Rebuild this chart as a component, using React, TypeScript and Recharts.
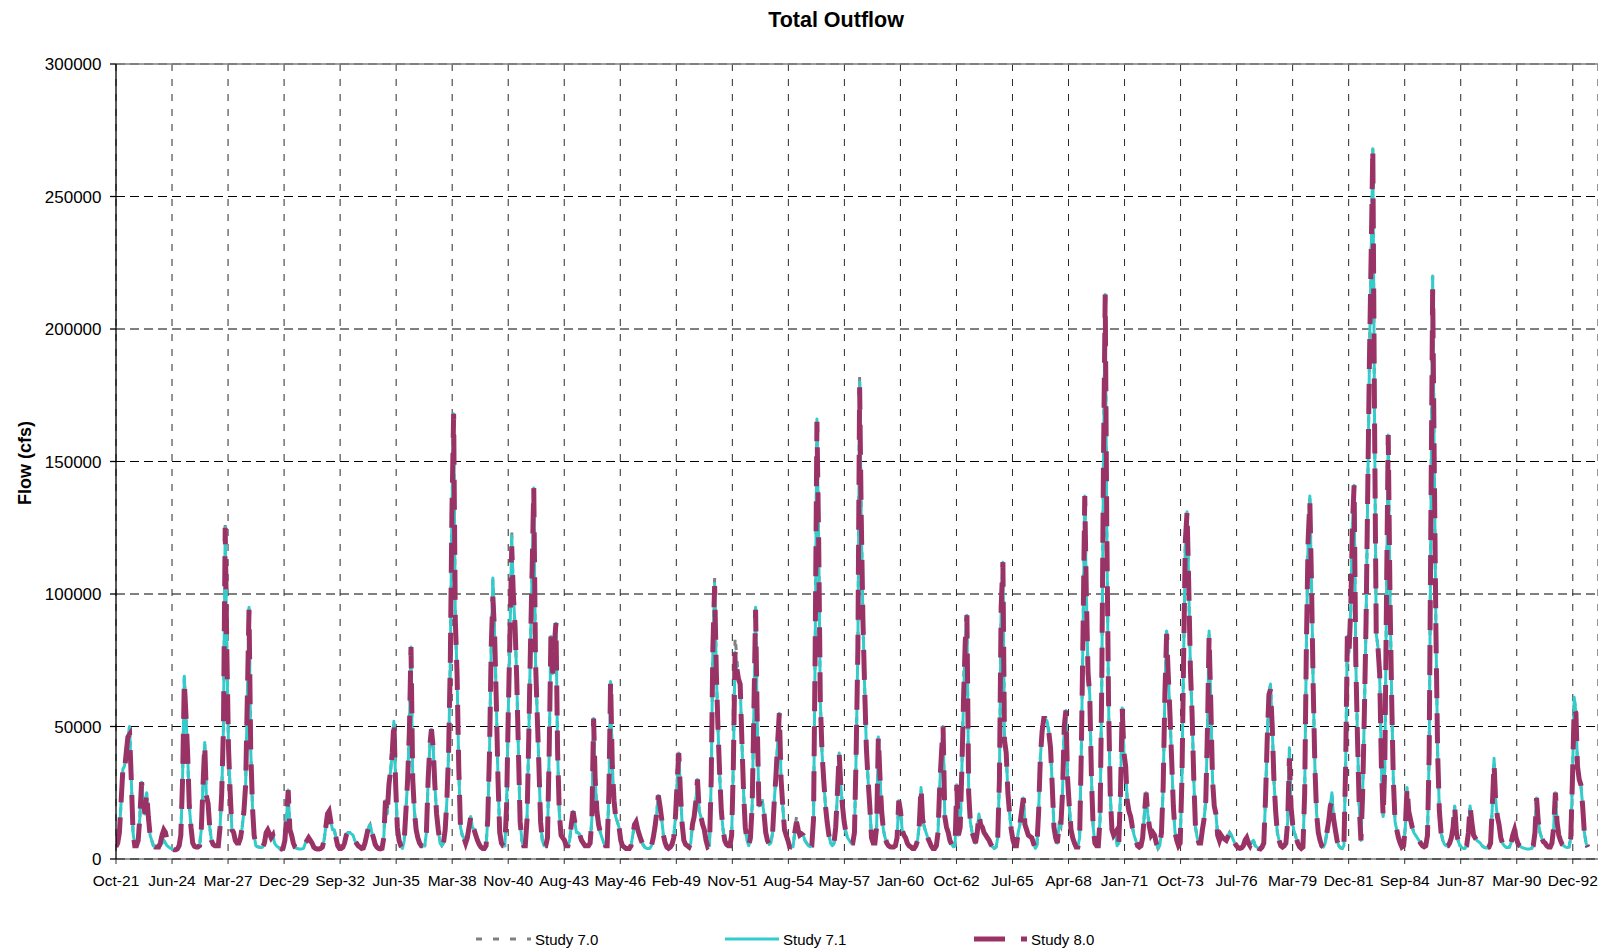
import React from 'react';
import { LineChart, Line, XAxis, YAxis, CartesianGrid, ReferenceLine } from 'recharts';

// Monthly total outflow (cfs), water years Oct-1921 .. Sep-1993, one row per water year (Oct..Sep)
const study80: number[] = [
  4600, 6000, 10000, 22000, 34000, 33000, 40000, 46000, 47000, 30000, 10000, 5000,
  5000, 7000, 16000, 29000, 22000, 17000, 25000, 16000, 9000, 7000, 5000, 4500,
  4500, 4500, 6000, 9000, 11000, 10000, 7000, 5000, 4000, 3800, 3500, 3500,
  3800, 5000, 9000, 30000, 67000, 55000, 40000, 20000, 12000, 6000, 4800, 4500,
  4500, 5000, 11000, 28000, 43000, 24000, 21000, 12000, 7000, 5500, 5000, 5000,
  5000, 12000, 25000, 50000, 125000, 80000, 42000, 25000, 11000, 10000, 7000, 6000,
  6000, 8000, 12000, 18000, 28000, 60000, 94000, 42000, 20000, 9000, 5000, 4600,
  4500, 4300, 4500, 6000, 10000, 11000, 9500, 8000, 9000, 6000, 5000, 4500,
  4000, 3800, 4200, 7000, 16000, 26000, 11000, 9000, 6000, 4500, 4000, 3800,
  3800, 3800, 4000, 6000, 7000, 8000, 7000, 6000, 4500, 4000, 3800, 3800,
  4000, 4500, 7000, 12000, 17000, 18000, 14000, 11000, 11000, 8000, 5000, 4000,
  4000, 4500, 6000, 9000, 10000, 10000, 9500, 9000, 7000, 6000, 5000, 4500,
  4000, 4200, 6000, 9000, 12000, 13000, 10000, 8000, 5500, 4500, 4000, 3800,
  4000, 8000, 22000, 17000, 28000, 33000, 40000, 52000, 28000, 12000, 7000, 5000,
  4000, 7000, 18000, 30000, 48000, 80000, 30000, 18000, 11000, 8000, 6000, 5000,
  5000, 5000, 10000, 30000, 43000, 49000, 42000, 28000, 17000, 11000, 6000, 5000,
  6000, 11000, 22000, 40000, 75000, 130000, 168000, 90000, 70000, 35000, 12000, 9000,
  8000, 6000, 8000, 12000, 16000, 12000, 11000, 9000, 7000, 5500, 4500, 4000,
  4000, 5000, 15000, 40000, 80000, 99000, 85000, 60000, 30000, 10000, 6000, 5000,
  5000, 20000, 55000, 85000, 118000, 100000, 88000, 68000, 40000, 14000, 7000, 5000,
  5000, 15000, 45000, 80000, 110000, 140000, 75000, 55000, 35000, 14000, 7000, 5000,
  5000, 8000, 40000, 84000, 70000, 80000, 89000, 40000, 17000, 9000, 8000, 7000,
  5000, 5000, 7000, 13000, 18000, 14000, 10000, 10000, 9000, 7000, 6000, 5000,
  5000, 5000, 6000, 15000, 53000, 30000, 18000, 13000, 10000, 8000, 6000, 5000,
  5000, 25000, 67000, 35000, 22000, 16000, 14000, 12000, 7000, 5000, 4500, 4000,
  4000, 4000, 5000, 9000, 13000, 14000, 11000, 9000, 7000, 5500, 4500, 4000,
  4000, 4000, 5000, 8000, 12000, 17000, 24000, 20000, 15000, 9000, 6000, 4500,
  4000, 4500, 5500, 8000, 16000, 28000, 40000, 25000, 13000, 7000, 5500, 5000,
  4500, 6000, 13000, 16000, 22000, 30000, 18000, 16000, 13000, 11000, 7000, 4600,
  5000, 30000, 80000, 103000, 70000, 50000, 32000, 18000, 11000, 7000, 5500, 5000,
  5000, 9000, 35000, 78000, 72000, 68000, 66000, 45000, 25000, 12000, 7000, 5000,
  8000, 20000, 55000, 94000, 50000, 20000, 22000, 22000, 17000, 10000, 7000, 5500,
  6000, 10000, 22000, 32000, 45000, 55000, 30000, 20000, 11000, 9000, 7000, 4600,
  4500, 4600, 10000, 14000, 11000, 9000, 9500, 9000, 7000, 6000, 5000, 4600,
  5000, 15000, 80000, 165000, 120000, 60000, 40000, 30000, 20000, 14000, 9000, 6000,
  5000, 6000, 12000, 25000, 40000, 28000, 20000, 14000, 10000, 8000, 7000, 6000,
  6000, 10000, 40000, 80000, 178000, 130000, 90000, 65000, 42000, 30000, 20000, 8000,
  6000, 6000, 12000, 46000, 30000, 18000, 11000, 8000, 6000, 5000, 4600, 4500,
  4500, 5000, 8000, 22000, 18000, 11000, 9000, 8000, 6000, 5000, 4600, 4000,
  4000, 5000, 7000, 13000, 27000, 15000, 12000, 10000, 8000, 6500, 5000, 4000,
  4000, 5000, 10000, 28000, 40000, 50000, 16000, 12000, 10000, 7000, 5500, 4600,
  5000, 28000, 9000, 12000, 35000, 60000, 82000, 92000, 25000, 14000, 10000, 8000,
  6000, 10000, 17000, 13000, 12000, 10000, 9000, 8000, 7000, 5500, 4500, 4000,
  4500, 8000, 30000, 95000, 112000, 45000, 40000, 25000, 17000, 11000, 7000, 5000,
  5000, 10000, 13000, 18000, 23000, 13000, 11000, 9000, 8500, 8000, 6000, 4000,
  5000, 18000, 38000, 48000, 53000, 53000, 52000, 48000, 42000, 28000, 12000, 8000,
  6000, 13000, 12000, 25000, 50000, 56000, 30000, 20000, 11000, 8000, 6000, 4500,
  4500, 8000, 40000, 85000, 137000, 100000, 70000, 62000, 30000, 12000, 6000, 5000,
  5000, 15000, 65000, 150000, 213000, 125000, 60000, 25000, 11000, 9000, 10000, 5000,
  6000, 25000, 57000, 40000, 35000, 22000, 18000, 16000, 12000, 9000, 7000, 5000,
  4500, 5000, 8000, 17000, 25000, 17000, 12000, 9000, 10000, 9000, 6000, 4000,
  5000, 10000, 27000, 62000, 85000, 70000, 55000, 38000, 20000, 10000, 7000, 5000,
  6000, 30000, 75000, 120000, 131000, 105000, 72000, 55000, 30000, 12000, 8000, 6000,
  6000, 11000, 15000, 22000, 50000, 84000, 58000, 30000, 20000, 17000, 9000, 7000,
  9000, 8000, 7500, 7000, 8500, 10000, 9000, 7500, 6000, 5000, 4200, 4000,
  4200, 5000, 7000, 8000, 6000, 5000, 6500, 7000, 5000, 4500, 4000, 3800,
  4500, 6000, 22000, 45000, 62000, 64000, 50000, 30000, 18000, 10000, 7000, 5000,
  4500, 5000, 6000, 14000, 38000, 20000, 13000, 10000, 8000, 6000, 4600, 4000,
  4500, 25000, 80000, 120000, 135000, 105000, 65000, 35000, 17000, 10000, 7000, 5000,
  4500, 6000, 10000, 14000, 20000, 22000, 15000, 11000, 7000, 5000, 4200, 4000,
  5000, 35000, 84000, 78000, 95000, 125000, 141000, 75000, 45000, 20000, 7000, 25000,
  55000, 90000, 140000, 190000, 230000, 268000, 165000, 85000, 80000, 70000, 35000, 16000,
  35000, 100000, 160000, 100000, 60000, 30000, 14000, 11000, 8000, 6000, 4500, 5000,
  12000, 27000, 18000, 15000, 12000, 10000, 9000, 8000, 7000, 6000, 5000, 4600,
  5000, 9000, 40000, 130000, 215000, 150000, 85000, 40000, 18000, 10000, 7000, 5500,
  5000, 5000, 6000, 8000, 12000, 20000, 10000, 7000, 5000, 4500, 4000, 4000,
  5000, 10000, 20000, 14000, 9000, 8000, 7000, 6500, 6000, 5000, 4500, 4200,
  4200, 4500, 6000, 20000, 36000, 22000, 16000, 13000, 8000, 6000, 5000, 4500,
  4300, 4500, 6000, 9000, 11000, 8000, 6000, 5000, 4500, 4200, 4000, 3800,
  3800, 3800, 4000, 5000, 10000, 23000, 14000, 10000, 8000, 6500, 6000, 5000,
  4500, 4500, 6000, 12000, 25000, 14000, 9000, 7000, 5500, 5000, 4500, 4300,
  4500, 8000, 30000, 57000, 55000, 35000, 30000, 28000, 20000, 10000, 6000, 4500,
];

const study71: number[] = [
  4600, 6000, 10000, 22000, 34000, 35000, 40000, 46000, 50000, 30000, 10000, 5000,
  5000, 7000, 16000, 29000, 22000, 17000, 25000, 16000, 9000, 7000, 5000, 4500,
  4500, 4500, 5000, 6000, 7000, 6000, 5000, 4500, 4000, 3800, 3500, 3500,
  3800, 5000, 9000, 30000, 69000, 55000, 40000, 20000, 12000, 6000, 4800, 4500,
  4500, 5000, 11000, 28000, 44000, 24000, 21000, 12000, 7000, 5500, 5000, 5000,
  5000, 12000, 25000, 50000, 125000, 80000, 42000, 25000, 11000, 10000, 7000, 6000,
  6000, 8000, 12000, 18000, 28000, 60000, 95000, 42000, 20000, 9000, 5000, 4600,
  4500, 4300, 4500, 6000, 10000, 11000, 9500, 8000, 9000, 6000, 5000, 4500,
  4000, 3800, 4200, 7000, 16000, 26000, 11000, 9000, 6000, 4500, 4000, 3800,
  3800, 3800, 4000, 6000, 7000, 8000, 7000, 6000, 4500, 4000, 3800, 3800,
  4000, 4500, 7000, 12000, 17000, 18000, 14000, 11000, 11000, 8000, 5000, 4000,
  4000, 4500, 6000, 9000, 10000, 10000, 9500, 9000, 7000, 6000, 5000, 4500,
  4000, 4200, 6000, 9000, 12000, 13000, 10000, 8000, 5500, 4500, 4000, 3800,
  4000, 8000, 22000, 17000, 28000, 33000, 40000, 52000, 28000, 12000, 7000, 5000,
  4000, 7000, 18000, 30000, 48000, 80000, 30000, 18000, 11000, 8000, 6000, 5000,
  5000, 5000, 10000, 30000, 43000, 49000, 42000, 28000, 17000, 11000, 6000, 5000,
  6000, 11000, 22000, 40000, 75000, 130000, 168000, 90000, 70000, 35000, 12000, 9000,
  8000, 6000, 8000, 12000, 16000, 12000, 11000, 9000, 7000, 5500, 4500, 4000,
  4000, 5000, 15000, 40000, 80000, 106000, 85000, 60000, 30000, 10000, 6000, 5000,
  5000, 20000, 55000, 85000, 122000, 100000, 88000, 68000, 40000, 14000, 7000, 5000,
  5000, 15000, 45000, 80000, 110000, 140000, 75000, 55000, 35000, 14000, 7000, 5000,
  5000, 8000, 40000, 84000, 70000, 80000, 89000, 40000, 17000, 9000, 8000, 7000,
  5000, 5000, 7000, 13000, 18000, 14000, 10000, 10000, 9000, 7000, 6000, 5000,
  5000, 5000, 6000, 15000, 53000, 30000, 18000, 13000, 10000, 8000, 6000, 5000,
  5000, 25000, 67000, 35000, 22000, 16000, 14000, 12000, 7000, 5000, 4500, 4000,
  4000, 4000, 5000, 9000, 13000, 14000, 11000, 9000, 7000, 5500, 4500, 4000,
  4000, 4000, 5000, 8000, 12000, 17000, 24000, 20000, 15000, 9000, 6000, 4500,
  4000, 4500, 5500, 8000, 16000, 28000, 40000, 25000, 13000, 7000, 5500, 5000,
  4500, 6000, 13000, 16000, 22000, 30000, 18000, 16000, 13000, 11000, 7000, 4600,
  5000, 30000, 80000, 104000, 70000, 50000, 32000, 18000, 11000, 7000, 5500, 5000,
  5000, 9000, 35000, 78000, 72000, 68000, 66000, 45000, 25000, 12000, 7000, 5000,
  8000, 20000, 55000, 95000, 50000, 20000, 22000, 22000, 17000, 10000, 7000, 5500,
  6000, 10000, 22000, 32000, 45000, 55000, 30000, 20000, 11000, 9000, 7000, 4600,
  4500, 4600, 10000, 14000, 11000, 9000, 9500, 9000, 7000, 6000, 5000, 4600,
  5000, 15000, 80000, 166000, 120000, 60000, 40000, 30000, 20000, 14000, 9000, 6000,
  5000, 6000, 12000, 25000, 40000, 28000, 20000, 14000, 10000, 8000, 7000, 6000,
  6000, 10000, 40000, 80000, 180000, 130000, 90000, 65000, 42000, 30000, 20000, 8000,
  6000, 6000, 12000, 46000, 30000, 18000, 11000, 8000, 6000, 5000, 4600, 4500,
  4500, 5000, 8000, 22000, 18000, 11000, 9000, 8000, 6000, 5000, 4600, 4000,
  4000, 5000, 7000, 13000, 27000, 15000, 12000, 10000, 8000, 6500, 5000, 4000,
  4000, 5000, 10000, 28000, 40000, 50000, 16000, 12000, 10000, 7000, 5500, 4600,
  5000, 28000, 9000, 12000, 35000, 60000, 82000, 92000, 25000, 14000, 10000, 8000,
  6000, 10000, 17000, 13000, 12000, 10000, 9000, 8000, 7000, 5500, 4500, 4000,
  4500, 8000, 30000, 95000, 112000, 45000, 40000, 25000, 17000, 11000, 7000, 5000,
  5000, 10000, 13000, 18000, 23000, 13000, 11000, 9000, 8500, 8000, 6000, 4000,
  5000, 18000, 38000, 48000, 53000, 53000, 52000, 48000, 42000, 28000, 12000, 8000,
  6000, 13000, 12000, 25000, 50000, 56000, 30000, 20000, 11000, 8000, 6000, 4500,
  4500, 8000, 40000, 85000, 137000, 100000, 70000, 62000, 30000, 12000, 6000, 5000,
  5000, 15000, 65000, 150000, 213000, 125000, 60000, 25000, 11000, 9000, 10000, 5000,
  6000, 25000, 57000, 40000, 35000, 22000, 18000, 16000, 12000, 9000, 7000, 5000,
  4500, 5000, 8000, 17000, 25000, 17000, 12000, 9000, 10000, 9000, 6000, 4000,
  5000, 10000, 27000, 62000, 86000, 70000, 55000, 38000, 20000, 10000, 7000, 5000,
  6000, 30000, 75000, 120000, 131000, 105000, 72000, 55000, 30000, 12000, 8000, 6000,
  6000, 11000, 15000, 22000, 50000, 86000, 58000, 30000, 20000, 17000, 9000, 7000,
  9000, 8000, 7500, 7000, 8500, 10000, 9000, 7500, 6000, 5000, 4200, 4000,
  4200, 5000, 7000, 8000, 6000, 5000, 6500, 7000, 5000, 4500, 4000, 3800,
  4500, 6000, 22000, 45000, 62000, 66000, 50000, 30000, 18000, 10000, 7000, 5000,
  4500, 5000, 6000, 14000, 42000, 20000, 13000, 10000, 8000, 6000, 4600, 4000,
  4500, 25000, 80000, 120000, 137000, 105000, 65000, 35000, 17000, 10000, 7000, 5000,
  4500, 6000, 10000, 14000, 20000, 25000, 15000, 11000, 7000, 5000, 4200, 4000,
  5000, 35000, 84000, 78000, 95000, 125000, 141000, 75000, 45000, 20000, 7000, 25000,
  55000, 90000, 140000, 190000, 230000, 268000, 165000, 85000, 80000, 70000, 35000, 16000,
  35000, 100000, 160000, 100000, 60000, 30000, 14000, 11000, 8000, 6000, 4500, 5000,
  12000, 27000, 18000, 15000, 12000, 10000, 9000, 8000, 7000, 6000, 5000, 4600,
  5000, 9000, 40000, 130000, 220000, 150000, 85000, 40000, 18000, 10000, 7000, 5500,
  5000, 5000, 6000, 8000, 12000, 20000, 10000, 7000, 5000, 4500, 4000, 4000,
  5000, 10000, 20000, 14000, 9000, 8000, 7000, 6500, 6000, 5000, 4500, 4200,
  4200, 4500, 6000, 20000, 38000, 22000, 16000, 13000, 8000, 6000, 5000, 4500,
  4300, 4500, 6000, 9000, 11000, 8000, 6000, 5000, 4500, 4200, 4000, 3800,
  3800, 3800, 4000, 5000, 10000, 23000, 14000, 10000, 8000, 6500, 6000, 5000,
  4500, 4500, 6000, 12000, 25000, 14000, 9000, 7000, 5500, 5000, 4500, 4300,
  4500, 8000, 30000, 61000, 55000, 35000, 30000, 28000, 20000, 10000, 6000, 4500,
];

const study70: number[] = [
  4600, 6000, 10000, 22000, 34000, 35000, 40000, 46000, 50000, 30000, 10000, 5000,
  5000, 7000, 16000, 29000, 22000, 17000, 25000, 16000, 9000, 7000, 5000, 4500,
  4500, 4500, 5000, 6000, 7000, 6000, 5000, 4500, 4000, 3800, 3500, 3500,
  3800, 5000, 9000, 30000, 69000, 55000, 40000, 20000, 12000, 6000, 4800, 4500,
  4500, 5000, 11000, 28000, 44000, 24000, 21000, 12000, 7000, 5500, 5000, 5000,
  5000, 12000, 25000, 50000, 126000, 80000, 42000, 25000, 11000, 10000, 7000, 6000,
  6000, 8000, 12000, 18000, 28000, 60000, 95000, 42000, 20000, 9000, 5000, 4600,
  4500, 4300, 4500, 6000, 10000, 11000, 9500, 8000, 9000, 6000, 5000, 4500,
  4000, 3800, 4200, 7000, 16000, 26000, 11000, 9000, 6000, 4500, 4000, 3800,
  3800, 3800, 4000, 6000, 7000, 8000, 7000, 6000, 4500, 4000, 3800, 3800,
  4000, 4500, 7000, 12000, 17000, 18000, 14000, 11000, 11000, 8000, 5000, 4000,
  4000, 4500, 6000, 9000, 10000, 10000, 9500, 9000, 7000, 6000, 5000, 4500,
  4000, 4200, 6000, 9000, 12000, 13000, 10000, 8000, 5500, 4500, 4000, 3800,
  4000, 8000, 22000, 17000, 28000, 33000, 40000, 52000, 28000, 12000, 7000, 5000,
  4000, 7000, 18000, 30000, 48000, 80000, 30000, 18000, 11000, 8000, 6000, 5000,
  5000, 5000, 10000, 30000, 43000, 49000, 42000, 28000, 17000, 11000, 6000, 5000,
  6000, 11000, 22000, 40000, 75000, 130000, 168000, 90000, 70000, 35000, 12000, 9000,
  8000, 6000, 8000, 12000, 16000, 12000, 11000, 9000, 7000, 5500, 4500, 4000,
  4000, 5000, 15000, 40000, 80000, 106000, 85000, 60000, 30000, 10000, 6000, 5000,
  5000, 20000, 55000, 85000, 124000, 100000, 88000, 68000, 40000, 14000, 7000, 5000,
  5000, 15000, 45000, 80000, 110000, 140000, 75000, 55000, 35000, 14000, 7000, 5000,
  5000, 8000, 40000, 84000, 70000, 80000, 89000, 40000, 17000, 9000, 8000, 7000,
  5000, 5000, 7000, 13000, 18000, 14000, 10000, 10000, 9000, 7000, 6000, 5000,
  5000, 5000, 6000, 15000, 53000, 30000, 18000, 13000, 10000, 8000, 6000, 5000,
  5000, 25000, 67000, 35000, 22000, 16000, 14000, 12000, 7000, 5000, 4500, 4000,
  4000, 4000, 5000, 9000, 13000, 14000, 11000, 9000, 7000, 5500, 4500, 4000,
  4000, 4000, 5000, 8000, 12000, 17000, 24000, 20000, 15000, 9000, 6000, 4500,
  4000, 4500, 5500, 8000, 16000, 28000, 40000, 25000, 13000, 7000, 5500, 5000,
  4500, 6000, 13000, 16000, 22000, 30000, 18000, 16000, 13000, 11000, 7000, 4600,
  5000, 30000, 80000, 106000, 70000, 50000, 32000, 18000, 11000, 7000, 5500, 5000,
  5000, 9000, 35000, 84000, 76000, 68000, 66000, 45000, 25000, 12000, 7000, 5000,
  8000, 20000, 55000, 95000, 50000, 20000, 22000, 22000, 17000, 10000, 7000, 5500,
  6000, 10000, 22000, 32000, 45000, 55000, 30000, 20000, 11000, 9000, 7000, 4600,
  4500, 4600, 10000, 16000, 11000, 9000, 9500, 9000, 7000, 6000, 5000, 4600,
  5000, 15000, 80000, 166000, 120000, 60000, 40000, 30000, 20000, 14000, 9000, 6000,
  5000, 6000, 12000, 25000, 40000, 28000, 20000, 14000, 10000, 8000, 7000, 6000,
  6000, 10000, 40000, 80000, 183000, 130000, 90000, 65000, 42000, 30000, 20000, 8000,
  6000, 6000, 12000, 46000, 30000, 18000, 11000, 8000, 6000, 5000, 4600, 4500,
  4500, 5000, 8000, 22000, 18000, 11000, 9000, 8000, 6000, 5000, 4600, 4000,
  4000, 5000, 7000, 13000, 27000, 15000, 12000, 10000, 8000, 6500, 5000, 4000,
  4000, 5000, 10000, 28000, 40000, 50000, 16000, 12000, 10000, 7000, 5500, 4600,
  5000, 28000, 9000, 12000, 35000, 67000, 82000, 92000, 25000, 14000, 10000, 8000,
  6000, 10000, 17000, 13000, 12000, 10000, 9000, 8000, 7000, 5500, 4500, 4000,
  4500, 8000, 30000, 95000, 112000, 45000, 40000, 25000, 17000, 11000, 7000, 5000,
  5000, 10000, 13000, 18000, 23000, 13000, 11000, 9000, 8500, 8000, 6000, 4000,
  5000, 18000, 38000, 48000, 53000, 53000, 52000, 48000, 42000, 28000, 12000, 8000,
  6000, 13000, 12000, 25000, 50000, 56000, 30000, 20000, 11000, 8000, 6000, 4500,
  4500, 8000, 40000, 85000, 137000, 100000, 70000, 62000, 30000, 12000, 6000, 5000,
  5000, 15000, 65000, 150000, 213000, 125000, 60000, 25000, 11000, 9000, 10000, 5000,
  6000, 25000, 57000, 40000, 35000, 22000, 18000, 16000, 12000, 9000, 7000, 5000,
  4500, 5000, 8000, 17000, 25000, 17000, 12000, 9000, 10000, 9000, 6000, 4000,
  5000, 10000, 27000, 62000, 86000, 70000, 55000, 38000, 20000, 10000, 7000, 5000,
  6000, 30000, 75000, 120000, 131000, 105000, 72000, 55000, 30000, 12000, 8000, 6000,
  6000, 11000, 15000, 22000, 50000, 86000, 58000, 30000, 20000, 17000, 9000, 7000,
  9000, 8000, 7500, 7000, 8500, 10000, 9000, 7500, 6000, 5000, 4200, 4000,
  4200, 5000, 7000, 8000, 6000, 5000, 6500, 7000, 5000, 4500, 4000, 3800,
  4500, 6000, 22000, 45000, 62000, 66000, 50000, 30000, 18000, 10000, 7000, 5000,
  4500, 5000, 6000, 14000, 42000, 20000, 13000, 10000, 8000, 6000, 4600, 4000,
  4500, 25000, 80000, 120000, 137000, 105000, 65000, 35000, 17000, 10000, 7000, 5000,
  4500, 6000, 10000, 14000, 20000, 25000, 15000, 11000, 7000, 5000, 4200, 4000,
  5000, 35000, 84000, 78000, 95000, 125000, 141000, 75000, 45000, 20000, 7000, 25000,
  55000, 90000, 140000, 190000, 230000, 268000, 165000, 85000, 80000, 70000, 35000, 16000,
  35000, 100000, 160000, 100000, 60000, 30000, 14000, 11000, 8000, 6000, 4500, 5000,
  12000, 27000, 18000, 15000, 12000, 10000, 9000, 8000, 7000, 6000, 5000, 4600,
  5000, 9000, 40000, 130000, 220000, 150000, 85000, 40000, 18000, 10000, 7000, 5500,
  5000, 5000, 6000, 8000, 12000, 20000, 10000, 7000, 5000, 4500, 4000, 4000,
  5000, 10000, 20000, 14000, 9000, 8000, 7000, 6500, 6000, 5000, 4500, 4200,
  4200, 4500, 6000, 20000, 38000, 22000, 16000, 13000, 8000, 6000, 5000, 4500,
  4300, 4500, 6000, 9000, 11000, 8000, 6000, 5000, 4500, 4200, 4000, 3800,
  3800, 3800, 4000, 5000, 10000, 23000, 14000, 10000, 8000, 6500, 6000, 5000,
  4500, 4500, 6000, 12000, 25000, 14000, 9000, 7000, 5500, 5000, 4500, 4300,
  4500, 8000, 30000, 61000, 55000, 35000, 30000, 28000, 20000, 10000, 6000, 4500,
];

// x-axis ticks every 1000 days from 1-Oct-1921
const tickDays: number[] = [
  0, 1000, 2000, 3000, 4000, 5000, 6000, 7000, 8000, 9000, 10000, 11000, 12000, 13000,
  14000, 15000, 16000, 17000, 18000, 19000, 20000, 21000, 22000, 23000, 24000, 25000, 26000,
];
const tickLabels: string[] = [
  'Oct-21', 'Jun-24', 'Mar-27', 'Dec-29', 'Sep-32', 'Jun-35', 'Mar-38', 'Nov-40', 'Aug-43',
  'May-46', 'Feb-49', 'Nov-51', 'Aug-54', 'May-57', 'Jan-60', 'Oct-62', 'Jul-65', 'Apr-68',
  'Jan-71', 'Oct-73', 'Jul-76', 'Mar-79', 'Dec-81', 'Sep-84', 'Jun-87', 'Mar-90', 'Dec-92',
];
const yTicks: number[] = [0, 50000, 100000, 150000, 200000, 250000, 300000];

const seriesNames = ['Study 7.0', 'Study 7.1', 'Study 8.0'];

// category: month index -> day offset from 1-Oct-1921
const START = Date.UTC(1921, 9, 1);
const DAY_MS = 86400000;
const rows = study80.map((v, i) => ({
  day: Math.round((Date.UTC(1921, 9 + i, 1) - START) / DAY_MS),
  s70: study70[i],
  s71: study71[i],
  s80: v,
}));

const W = 1598;
const H = 950;
const FONT = "'Liberation Sans', Arial, Helvetica, sans-serif";
const C70 = '#808080';
const C71 = '#33CCCC';
const C80 = '#993366';

export default function App() {
  return (
    <div style={{ position: 'absolute', left: 0, top: 0, width: W, height: H, background: '#fff', fontFamily: FONT, overflow: 'hidden' }}>
      <LineChart
        width={W}
        height={H}
        data={rows}
        margin={{ top: 64, right: 0, bottom: H - 859 - 30, left: 0 }}
        style={{ fontFamily: FONT }}
      >
        <CartesianGrid vertical={false} stroke="#000" strokeDasharray="9 5" />
        <CartesianGrid horizontal={false} stroke="#2a2a2a" strokeDasharray="7 8" />
        <XAxis
          type="number"
          dataKey="day"
          domain={[0, 26450]}
          ticks={tickDays}
          tickFormatter={(v: number) => tickLabels[tickDays.indexOf(v)] ?? ''}
          allowDataOverflow
          height={30}
          tickSize={5}
          tickMargin={11}
          stroke="#333"
          tick={{ fontSize: 15.5, fill: '#000', fontFamily: FONT }}
          interval={0}
        />
        <YAxis
          type="number"
          domain={[0, 300000]}
          ticks={yTicks}
          allowDataOverflow
          width={116}
          tickSize={6}
          tickMargin={8.5}
          stroke="#000"
          strokeWidth={1.3}
          tick={{ fontSize: 17, fill: '#000', fontFamily: FONT }}
          interval={0}
        />
        <ReferenceLine y={300000} stroke="#808080" strokeWidth={1.3} ifOverflow="visible" />
        <Line
          name={seriesNames[0]}
          type="linear"
          dataKey="s70"
          stroke={C70}
          strokeWidth={3}
          strokeDasharray="6 11"
          dot={false}
          activeDot={false}
          isAnimationActive={false}
        />
        <Line
          name={seriesNames[1]}
          type="linear"
          dataKey="s71"
          stroke={C71}
          strokeWidth={3}
          strokeLinejoin="round"
          dot={false}
          activeDot={false}
          isAnimationActive={false}
        />
        <Line
          name={seriesNames[2]}
          type="linear"
          dataKey="s80"
          stroke={C80}
          strokeWidth={5}
          strokeDasharray="30 15"
          dot={false}
          activeDot={false}
          isAnimationActive={false}
        />
      </LineChart>
      <svg
        width={W}
        height={H}
        style={{ position: 'absolute', left: 0, top: 0, pointerEvents: 'none', fontFamily: FONT }}
      >
        <text x={836} y={26.5} textAnchor="middle" fontWeight="bold" fontSize={21.5} fill="#000">
          Total Outflow
        </text>
        <text
          transform="translate(30.5,463) rotate(-90)"
          textAnchor="middle"
          fontWeight="bold"
          fontSize={18}
          fill="#000"
        >
          Flow (cfs)
        </text>
        <line x1={476} y1={939} x2={531} y2={939} stroke={C70} strokeWidth={3} strokeDasharray="6 11" />
        <text x={535} y={944.5} fontSize={15} fill="#000">{seriesNames[0]}</text>
        <line x1={725} y1={939} x2={779} y2={939} stroke={C71} strokeWidth={3} />
        <text x={783} y={944.5} fontSize={15} fill="#000">{seriesNames[1]}</text>
        <line x1={974} y1={939} x2={1027} y2={939} stroke={C80} strokeWidth={5} strokeDasharray="31 16" />
        <text x={1031} y={944.5} fontSize={15} fill="#000">{seriesNames[2]}</text>
      </svg>
    </div>
  );
}
